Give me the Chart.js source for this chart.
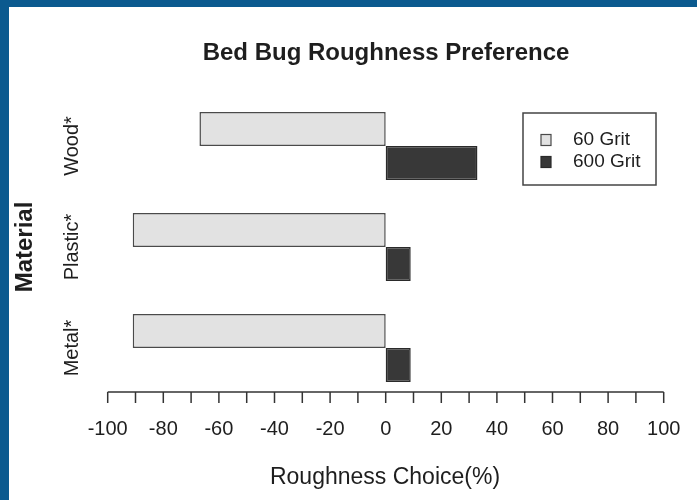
<!DOCTYPE html>
<html>
<head>
<meta charset="utf-8">
<script src="https://cdn.jsdelivr.net/npm/chart.js@4/dist/chart.umd.min.js"></script>
<style>
  html, body { margin: 0; padding: 0; }
  body { width: 697px; height: 500px; background: #0b5a8f; position: relative; overflow: hidden; }
  #wrap { position: absolute; left: 9px; top: 7px; width: 688px; height: 493px; background: #ffffff; }
  canvas { display: block; }
</style>
</head>
<body>
<div id="wrap"><canvas id="c" width="688" height="493"></canvas></div>
<script>
const categories = ['Wood*', 'Plastic*', 'Metal*'];
const seriesLabels = ['60 Grit', '600 Grit'];
const grit60 = [-67, -91, -91];
const grit600 = [33, 9, 9];
const xMin = -100, xMax = 100, xStep = 10, labelStep = 20;
const chartTitle = 'Bed Bug Roughness Preference';
const xTitle = 'Roughness Choice(%)';
const yTitle = 'Material';

const FONT = '"Liberation Sans", Arial, Helvetica, sans-serif';
const TEXT = '#1e1e1e';

const drawPlugin = {
  id: 'rbase',
  afterDraw(chart) {
    const ctx = chart.ctx;
    const xs = chart.scales.x, ys = chart.scales.y;
    ctx.save();
    // Title
    ctx.fillStyle = TEXT;
    ctx.textAlign = 'center';
    ctx.textBaseline = 'alphabetic';
    ctx.font = 'bold 24px ' + FONT;
    ctx.fillText(chartTitle, 377, 53);

    // X axis line & ticks
    const axisY = 385;
    const left = xs.getPixelForValue(xMin), right = xs.getPixelForValue(xMax);
    ctx.strokeStyle = '#333';
    ctx.lineWidth = 1.5;
    ctx.beginPath();
    ctx.moveTo(left, axisY);
    ctx.lineTo(right, axisY);
    ctx.stroke();
    let tickVals = (xs.ticks && xs.ticks.length) ? xs.ticks.map(t => t.value) : [];
    if (!tickVals.length) { for (let v = xMin; v <= xMax; v += xStep) tickVals.push(v); }
    ctx.font = '20px ' + FONT;
    ctx.textAlign = 'center';
    ctx.textBaseline = 'alphabetic';
    tickVals.forEach(v => {
      const px = xs.getPixelForValue(v);
      ctx.beginPath();
      ctx.moveTo(px, axisY);
      ctx.lineTo(px, axisY + 11);
      ctx.stroke();
      if (Math.round(v) % labelStep === 0) {
        ctx.fillText(String(Math.round(v)), px, 428);
      }
    });

    // X axis title
    ctx.font = '23px ' + FONT;
    ctx.fillText(xTitle, 376, 477);

    // Category labels (rotated)
    ctx.font = '20px ' + FONT;
    ctx.textBaseline = 'middle';
    chart.data.labels.forEach((lab, i) => {
      const py = ys.getPixelForValue(i);
      ctx.save();
      ctx.translate(63, py);
      ctx.rotate(-Math.PI / 2);
      ctx.fillText(lab, 0, 0);
      ctx.restore();
    });

    // Y title
    ctx.save();
    ctx.font = 'bold 24px ' + FONT;
    ctx.translate(16, (chart.chartArea.top + chart.chartArea.bottom) / 2);
    ctx.rotate(-Math.PI / 2);
    ctx.fillText(yTitle, 0, 0);
    ctx.restore();

    // Legend
    ctx.strokeStyle = '#444';
    ctx.lineWidth = 1.5;
    ctx.strokeRect(514, 106, 133, 72);
    ctx.font = '19px ' + FONT;
    ctx.textAlign = 'left';
    ctx.textBaseline = 'middle';
    const rows = [133, 155];
    chart.data.datasets.forEach((ds, i) => {
      const cy = rows[i];
      ctx.fillStyle = ds.backgroundColor;
      ctx.fillRect(532, cy - 5.5, 10, 11);
      ctx.strokeStyle = ds.borderColor;
      ctx.lineWidth = 1.2;
      ctx.strokeRect(532, cy - 5.5, 10, 11);
      ctx.fillStyle = TEXT;
      ctx.fillText(ds.label, 564, cy);
    });
    ctx.restore();
  }
};

new Chart(document.getElementById('c'), {
  type: 'bar',
  data: {
    labels: categories,
    datasets: [
      { label: seriesLabels[0], data: grit60, backgroundColor: '#e2e2e2', borderColor: '#4a4a4a', borderWidth: 1.5, borderSkipped: false },
      { label: seriesLabels[1], data: grit600, backgroundColor: '#383838', borderColor: '#2a2a2a', borderWidth: 1.5, borderSkipped: false }
    ]
  },
  options: {
    indexAxis: 'y',
    responsive: false,
    animation: false,
    devicePixelRatio: 1,
    layout: { padding: { left: 98.7, right: 33.3, top: 88.5, bottom: 101.5 } },
    datasets: { bar: { categoryPercentage: 0.673, barPercentage: 1.0 } },
    scales: {
      x: { type: 'linear', min: xMin, max: xMax, display: false, ticks: { stepSize: xStep } },
      y: { type: 'category', display: false, offset: true }
    },
    plugins: { legend: { display: false }, title: { display: false }, tooltip: { enabled: false } }
  },
  plugins: [drawPlugin]
});
</script>
</body>
</html>
